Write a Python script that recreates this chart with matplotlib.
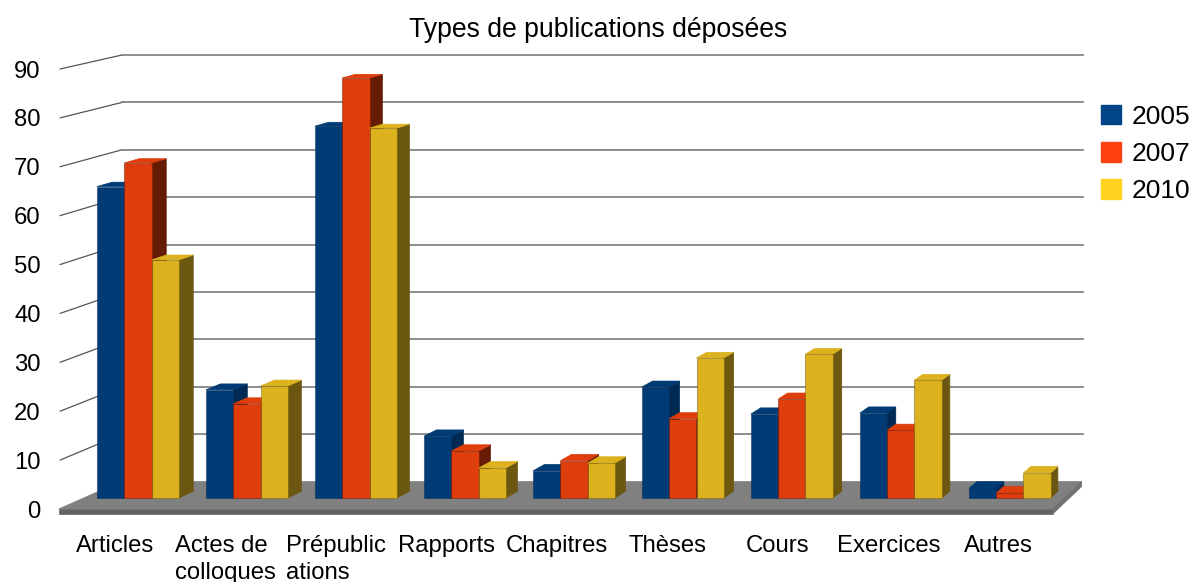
"""Types de publications deposees: pseudo-3D grouped bars on a perspective floor."""
import matplotlib
matplotlib.use("Agg")
import matplotlib.pyplot as plt
from matplotlib.colors import to_rgba
from matplotlib.patches import ConnectionPatch, Patch, Polygon

plt.rcParams["font.family"] = ["Liberation Sans", "DejaVu Sans"]

categories = ["Articles", "Actes de\ncolloques", "Prépublic\nations", "Rapports",
              "Chapitres", "Thèses", "Cours", "Exercices", "Autres"]
years = ["2005", "2007", "2010"]
values_2005 = [64.5, 22.4, 77, 12.8, 5.6, 23, 17.4, 17.6, 2]
values_2007 = [69.4, 19.5, 87, 9.7, 7.7, 16.4, 20.5, 14, 1]
values_2010 = [49.3, 23.2, 76.6, 6.2, 7.2, 29, 29.8, 24.4, 5.2]
y_ticks = [0, 10, 20, 30, 40, 50, 60, 70, 80, 90]

series = [values_2005, values_2007, values_2010]
front_colors = ["#003b76", "#df3d0c", "#dcb21e"]
side_colors = ["#002a54", "#651b04", "#6b5710"]
legend_colors = ["#004586", "#ff420e", "#ffd320"]

W, H = 1194, 582
BAR_WIDTH = 0.25
T_FRONT, T_BACK = 0.4, 0.645  # bar depth, 0 = front of the floor, 1 = back wall


def add_axes_px(left, right, top, bottom):
    a = fig.add_axes([left / W, 1 - bottom / H, (right - left) / W, (bottom - top) / H])
    a.set_xlim(-0.5, 8.5)
    a.set_ylim(0, 90)
    a.patch.set_visible(False)
    for s in a.spines.values():
        s.set_visible(False)
    return a


def project(x, v, t):
    """Pixel position of (category, value) at depth t between front and back planes."""
    x0, y0 = front_ax.transData.transform((x, v))
    x1, y1 = back_ax.transData.transform((x, v))
    return (x0 + (x1 - x0) * t - 1.3, y0 + (y1 - y0) * t)


def add_px_poly(ax, pts, color, zorder):
    ax.add_patch(Polygon(pts, closed=True, facecolor=color, edgecolor=color, linewidth=0.5,
                         transform=None, clip_on=False, zorder=zorder))


fig = plt.figure(figsize=(W / 100, H / 100), dpi=100)
back_ax = add_axes_px(122, 1083, 55, 481.5)
front_ax = add_axes_px(60, 1054, 69, 509)
bar_ax = add_axes_px(60 + 62 * T_FRONT - 1.3, 1054 + 29 * T_FRONT - 1.3,
                     69 - 14 * T_FRONT, 509 - 27.5 * T_FRONT)
bar_ax.set_xticks([])
bar_ax.set_yticks([])
back_ax.set_xticks([])
back_ax.set_yticks([])
back_ax.set_zorder(1)
bar_ax.set_zorder(3)
front_ax.set_zorder(2)

# back wall grid and left wall lines
for v in y_ticks[1:]:
    back_ax.axhline(v, color="#7a7a7a", linewidth=1.2, clip_on=False)
    fig.add_artist(ConnectionPatch((-0.5, v), (-0.5, v), coordsA=front_ax.transData,
                                   coordsB=back_ax.transData, color="#555555", linewidth=0.9))

# floor with its front lip
fl, fr = project(-0.5, 0, 0), project(8.5, 0, 0)
bl, br = project(-0.5, 0, 1), project(8.5, 0, 1)
add_px_poly(front_ax, [fl, fr, br, bl], "#808080", 2)
add_px_poly(front_ax, [fl, fr, (fr[0], fr[1] - 5), (fl[0], fl[1] - 5)], "#636363", 2)
add_px_poly(front_ax, [fr, br, (br[0], br[1] - 5), (fr[0], fr[1] - 5)], "#707070", 2)

# bars: left to right so each front face covers the neighbour's side
for i, vals in enumerate(series):
    offs = (i - 1) * BAR_WIDTH
    for j, v in enumerate(vals):
        xa, xb = j + offs - BAR_WIDTH / 2, j + offs + BAR_WIDTH / 2
        z = 10 + 3 * i
        add_px_poly(bar_ax, [project(xb, 0, T_FRONT), project(xb, 0, T_BACK),
                             project(xb, v, T_BACK), project(xb, v, T_FRONT)], side_colors[i], z)
        add_px_poly(bar_ax, [project(xa, v, T_FRONT), project(xb, v, T_FRONT),
                             project(xb, v, T_BACK), project(xa, v, T_BACK)], front_colors[i], z)
    bar_ax.bar([j + offs for j in range(len(vals))], vals, width=BAR_WIDTH, color=front_colors[i],
               edgecolor=to_rgba(side_colors[i], 0.45), linewidth=0.8, zorder=11 + 3 * i,
               clip_on=False)

# labels live on the front plane
front_ax.set_yticks(y_ticks)
front_ax.set_xticks(range(len(categories)))
front_ax.set_xticklabels(categories, multialignment="left", linespacing=1.32)
front_ax.tick_params(axis="y", length=0, pad=14, labelsize=17.2)
front_ax.tick_params(axis="x", length=0, pad=18.5, labelsize=17.2)

fig.text(598 / W, 1 - 30 / H, "Types de publications déposées", ha="center", va="center",
         fontsize=19.2)

handles = [Patch(facecolor=c, edgecolor=c) for c in legend_colors]
fig.legend(handles, years, loc="upper left", bbox_to_anchor=(1101 / W, 1 - 104.5 / H), frameon=False,
           fontsize=19, handlelength=0.76, handleheight=0.76, handletextpad=0.4,
           labelspacing=0.51, borderpad=0, borderaxespad=0)

fig.savefig("out.png", dpi=100)
